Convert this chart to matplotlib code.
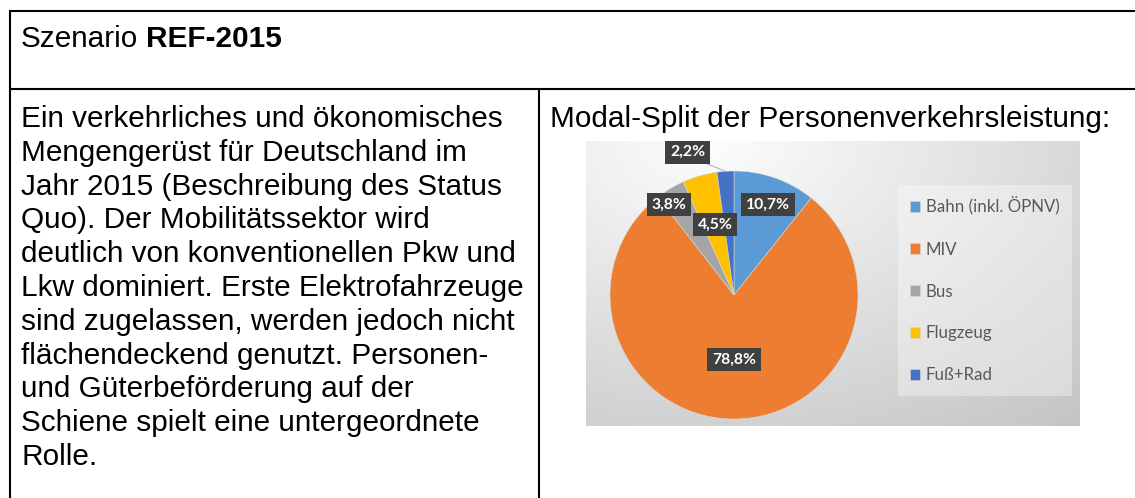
import numpy as np
import matplotlib
matplotlib.use("Agg")
import matplotlib.pyplot as plt

# ---- Data
modes = ["Bahn (inkl. ÖPNV)", "MIV", "Bus", "Flugzeug", "Fuß+Rad"]
shares = [10.7, 78.8, 3.8, 4.5, 2.2]
colors = ["#5B9BD5", "#ED7D31", "#A5A5A5", "#FFC000", "#4472C4"]
title_plain = "Szenario"
title_bold = "REF-2015"
chart_title = "Modal-Split der Personenverkehrsleistung:"
body_lines = [
    "Ein verkehrliches und ökonomisches",
    "Mengengerüst für Deutschland im",
    "Jahr 2015 (Beschreibung des Status",
    "Quo). Der Mobilitätssektor wird",
    "deutlich von konventionellen Pkw und",
    "Lkw dominiert. Erste Elektrofahrzeuge",
    "sind zugelassen, werden jedoch nicht",
    "flächendeckend genutzt. Personen-",
    "und Güterbeförderung auf der",
    "Schiene spielt eine untergeordnete",
    "Rolle.",
]

# label placement (radius in pie units, angle offset in deg), like Excel "best fit"
label_r = [0.78, 0.52, 0.90, 0.59, 1.21]
label_dang = [-1.2, 0.4, 4.8, -1.0, 14.0]

W, H = 1135, 498
fig = plt.figure(figsize=(W / 100, H / 100), dpi=100)
fig.patch.set_facecolor("white")

def px_axes(x0, y0, x1, y1, **kw):
    return fig.add_axes([x0 / W, (H - y1) / H, (x1 - x0) / W, (y1 - y0) / H], **kw)

# ---- Table frame + text
ax0 = fig.add_axes([0, 0, 1, 1])
ax0.set_xlim(0, W)
ax0.set_ylim(H, 0)
ax0.axis("off")
lw = 1.5
ax0.plot([9, W], [11, 11], color="black", lw=lw, solid_capstyle="butt")
ax0.plot([9, W], [89, 89], color="black", lw=lw, solid_capstyle="butt")
ax0.plot([10, 10], [10, H], color="black", lw=lw, solid_capstyle="butt")
ax0.plot([539, 539], [89, H], color="black", lw=lw, solid_capstyle="butt")

fs = 21.4
font = "Liberation Sans"
t1 = ax0.text(21, 47, title_plain, fontsize=fs, family=font, va="baseline", ha="left")
ax0.annotate(title_bold, xy=(1, 0), xycoords=t1, xytext=(5.6, 0),
             textcoords="offset points", fontsize=fs, family=font,
             fontweight="bold", va="bottom", ha="left")
for i, line in enumerate(body_lines):
    ax0.text(21, 127 + i * 33.8, line, fontsize=fs, family=font, va="baseline", ha="left")
ax0.text(550, 127, chart_title, fontsize=fs, family=font, va="baseline", ha="left")

# ---- Chart background (grey gradient like the embedded Excel picture)
axbg = px_axes(586, 141, 1080, 426)
yy, xx = np.mgrid[0:1:200j, 0:1:350j]
dist = np.sqrt(((xx - 0.25) * 1.0) ** 2 + (yy * 0.9) ** 2)
grad = np.clip(0.99 - 0.19 * dist, 0, 1)
axbg.imshow(grad, cmap="gray", vmin=0, vmax=1, aspect="auto", extent=[0, 1, 1, 0])
axbg.axis("off")

# ---- Pie
cx, cy, R = 734, 295, 124
axp = px_axes(cx - R, cy - R, cx + R, cy + R)
wedges, _ = axp.pie(shares, colors=colors, startangle=90, counterclock=False,
                    radius=1.0, wedgeprops=dict(linewidth=0.4, edgecolor="#d8d8d8"))
axp.set_xlim(-1, 1)
axp.set_ylim(-1, 1)
axp.set_aspect("equal")
axp.axis("off")

for w, v, r, da in zip(wedges, shares, label_r, label_dang):
    mid = np.deg2rad((w.theta1 + w.theta2) / 2)
    ang = mid + np.deg2rad(da)
    lx, ly = r * np.cos(ang), r * np.sin(ang)
    txt = f"{v:.1f}%".replace(".", ",")
    axp.text(lx, ly, txt, ha="center", va="center", color="white",
             fontsize=11.3, family="Lato", fontweight="bold", zorder=5, clip_on=False,
             bbox=dict(boxstyle="square,pad=0.3", facecolor="#404040", edgecolor="none"))
    if r > 1.0:
        ex, ey = np.cos(mid), np.sin(mid)
        axp.plot([lx + 0.1, ex], [ly - 0.07, ey], color="#a0a0a0", lw=0.6,
                 clip_on=False, zorder=4)

# ---- Legend
leg = fig.legend(wedges, modes, loc="upper left",
                 bbox_to_anchor=(898 / W, (H - 185) / H), frameon=True,
                 prop=dict(family="Lato", size=12.2), labelcolor="#595959",
                 handlelength=0.58, handleheight=0.58, handletextpad=0.35,
                 labelspacing=1.53, borderpad=0.72, borderaxespad=0.0)
leg.get_frame().set_facecolor("white")
leg.get_frame().set_alpha(0.35)
leg.get_frame().set_edgecolor("none")
leg.get_frame().set_boxstyle("square", pad=0)

fig.savefig("out.png", dpi=100)
